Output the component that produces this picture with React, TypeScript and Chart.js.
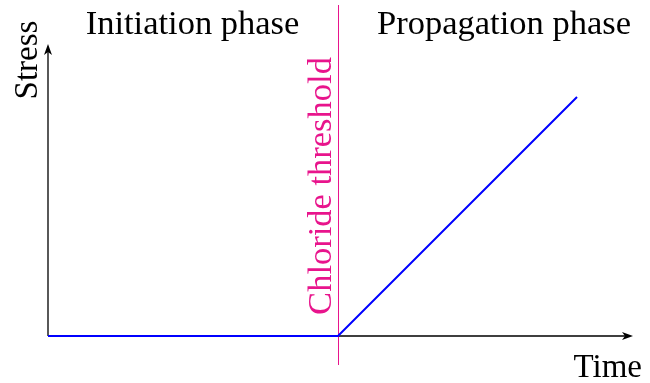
import React, { useEffect, useRef } from "react";
import { Chart, registerables } from "chart.js";

Chart.register(...registerables);

// Data (arbitrary units: time 0..100, stress 0..100)
const timeValues = [0, 49.57, 90.43];
const stressValues = [0, 0, 81.85];
const thresholdTime = 49.57;

const phaseLabels = ["Initiation phase", "Propagation phase"];
const thresholdLabel = "Chloride threshold";
const xAxisLabel = "Time";
const yAxisLabel = "Stress";

const FONT = '34.5px "Liberation Serif", "Times New Roman", serif';
const SMALL_FONT = '33px "Liberation Serif", "Times New Roman", serif';
const MAGENTA = "rgb(232,20,140)";

const decorPlugin = {
  id: "decor",
  beforeDatasetsDraw(chart: any) {
    const { ctx, scales } = chart;
    const xs = scales.x;
    const ys = scales.y;
    const x0 = xs.getPixelForValue(0);
    const y0 = ys.getPixelForValue(0);
    const xEnd = xs.right;
    const yEnd = ys.top;
    ctx.save();
    // axes
    ctx.strokeStyle = "#000";
    ctx.fillStyle = "#000";
    ctx.lineWidth = 1.3;
    ctx.beginPath();
    ctx.moveTo(x0, y0);
    ctx.lineTo(xEnd - 8, y0);
    ctx.moveTo(x0, y0);
    ctx.lineTo(x0, yEnd + 8);
    ctx.stroke();
    // arrowheads
    ctx.beginPath();
    ctx.moveTo(xEnd, y0);
    ctx.lineTo(xEnd - 11, y0 - 4);
    ctx.lineTo(xEnd - 8, y0);
    ctx.lineTo(xEnd - 11, y0 + 4);
    ctx.closePath();
    ctx.fill();
    ctx.beginPath();
    ctx.moveTo(x0, yEnd);
    ctx.lineTo(x0 - 4, yEnd + 11);
    ctx.lineTo(x0, yEnd + 8);
    ctx.lineTo(x0 + 4, yEnd + 11);
    ctx.closePath();
    ctx.fill();
    // threshold line
    const tx = Math.round(xs.getPixelForValue(thresholdTime)) + 0.5;
    ctx.strokeStyle = MAGENTA;
    ctx.lineWidth = 1;
    ctx.beginPath();
    ctx.moveTo(tx, 5);
    ctx.lineTo(tx, 365);
    ctx.stroke();
    ctx.restore();
  },
  afterDatasetsDraw(chart: any) {
    const { ctx, scales } = chart;
    const xs = scales.x;
    const tx = xs.getPixelForValue(thresholdTime);
    ctx.save();
    ctx.font = FONT;
    ctx.fillStyle = "#000";
    ctx.textBaseline = "alphabetic";
    ctx.textAlign = "center";
    ctx.fillText(phaseLabels[0], 192.5, 34);
    ctx.fillText(phaseLabels[1], 504, 34);
    ctx.font = SMALL_FONT;
    ctx.textAlign = "right";
    ctx.fillText(xAxisLabel, 642, 377);
    // Stress (rotated)
    ctx.save();
    ctx.translate(37, 60);
    ctx.rotate(-Math.PI / 2);
    ctx.textAlign = "center";
    ctx.fillText(yAxisLabel, 0, 0);
    ctx.restore();
    // Chloride threshold (rotated)
    ctx.save();
    ctx.font = FONT;
    ctx.translate(tx - 7, 186);
    ctx.rotate(-Math.PI / 2);
    ctx.textAlign = "center";
    ctx.fillStyle = MAGENTA;
    ctx.fillText(thresholdLabel, 0, 0);
    ctx.restore();
    ctx.restore();
  },
};

export default function App() {
  const ref = useRef<HTMLCanvasElement | null>(null);
  useEffect(() => {
    if (!ref.current) return;
    const chart = new Chart(ref.current, {
      type: "line",
      data: {
        datasets: [
          {
            data: timeValues.map((t, i) => ({ x: t, y: stressValues[i] })),
            borderColor: "rgb(0,0,255)",
            borderWidth: 2,
            pointRadius: 0,
            tension: 0,
            fill: false,
            clip: false as any,
          },
        ],
      },
      options: {
        responsive: false,
        animation: false,
        devicePixelRatio: 1,
        layout: { padding: { left: 48, right: 17, top: 44, bottom: 47 } },
        plugins: { legend: { display: false }, tooltip: { enabled: false }, title: { display: false } },
        scales: {
          x: { type: "linear", min: 0, max: 100, display: false },
          y: { type: "linear", min: 0, max: 100, display: false },
        },
      },
      plugins: [decorPlugin],
    });
    return () => chart.destroy();
  }, []);
  return (
    <canvas
      ref={ref}
      width={650}
      height={383}
      style={{ position: "absolute", left: 0, top: 0, width: 650, height: 383, display: "block", background: "#fff" }}
    />
  );
}
